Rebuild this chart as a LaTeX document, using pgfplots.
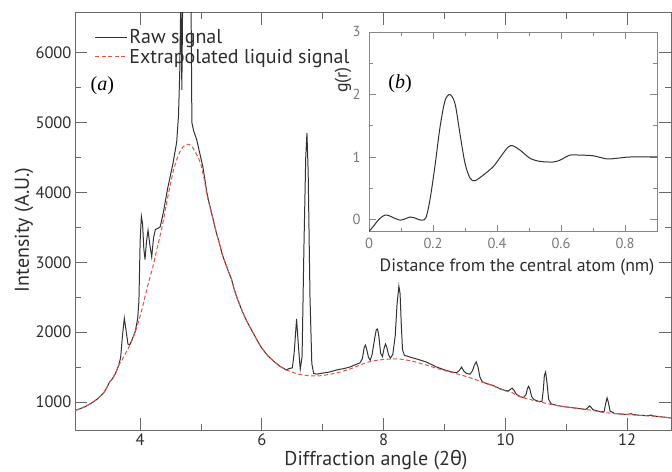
\documentclass[border=0pt]{standalone}
\usepackage{fontspec}
\setmainfont{PT Sans}
\newfontfamily\grk{Noto Sans}
\newfontfamily\serif{Liberation Serif}
\usepackage{pgfplots}
\pgfplotsset{compat=1.18}
\definecolor{rawc}{RGB}{50,50,50}
\definecolor{liqc}{RGB}{232,80,72}
\definecolor{spine}{RGB}{105,105,105}
\definecolor{tlab}{RGB}{45,45,45}
\definecolor{tlabb}{RGB}{120,120,120}

\pgfplotstableread{
x y
2.93 880
3.00 900
3.10 935
3.20 985
3.30 1045
3.40 1130
3.45 1200
3.50 1290
3.55 1340
3.60 1420
3.65 1530
3.68 1640
3.71 1950
3.74 2200
3.77 2020
3.80 1830
3.83 1820
3.87 1900
3.92 2010
3.96 2200
3.98 2450
4.00 3300
4.02 3660
4.04 3550
4.06 3200
4.08 3040
4.105 3300
4.13 3460
4.16 3250
4.19 3080
4.22 3350
4.25 3470
4.30 3490
4.33 3510
4.38 3710
4.45 4050
4.54 4420
4.60 4720
4.63 5100
4.65 5700
4.67 6900
4.685 5470
4.70 6900
4.73 9000
4.80 9000
4.835 6900
4.85 5000
4.88 4880
4.93 4755
4.98 4560
5.03 4370
5.10 3980
5.15 3790
5.20 3610
5.25 3430
5.30 3280
5.35 3110
5.40 2990
5.45 2870
5.50 2760
5.55 2600
5.60 2470
5.65 2360
5.70 2255
5.75 2160
5.80 2080
5.85 2000
5.90 1920
5.95 1840
6.00 1770
6.10 1660
6.20 1580
6.30 1510
6.40 1460
6.45 1480
6.50 1490
6.53 1700
6.57 2190
6.60 1800
6.63 1470
6.66 1650
6.69 3200
6.72 4500
6.74 4850
6.76 4300
6.79 2500
6.82 1550
6.85 1410
6.90 1400
7.00 1415
7.11 1430
7.23 1460
7.35 1480
7.44 1500
7.55 1540
7.61 1560
7.65 1620
7.68 1780
7.70 1815
7.72 1760
7.75 1640
7.78 1600
7.81 1680
7.85 1900
7.88 2040
7.90 2046
7.92 1950
7.95 1700
7.98 1650
8.01 1780
8.03 1830
8.05 1790
8.08 1680
8.11 1630
8.15 1680
8.19 1950
8.22 2400
8.25 2660
8.27 2550
8.29 2100
8.31 1750
8.34 1670
8.43 1645
8.55 1615
8.70 1573
8.87 1502
9.00 1460
9.15 1425
9.20 1420
9.24 1450
9.28 1500
9.32 1440
9.36 1410
9.42 1400
9.46 1450
9.49 1530
9.52 1575
9.55 1500
9.58 1360
9.62 1290
9.70 1262
9.80 1237
9.90 1195
10.00 1165
10.05 1160
10.08 1180
10.11 1200
10.14 1170
10.18 1110
10.25 1075
10.30 1065
10.34 1110
10.36 1190
10.38 1225
10.40 1190
10.43 1080
10.47 1035
10.55 1008
10.60 1010
10.62 1150
10.64 1380
10.66 1430
10.68 1300
10.71 1040
10.75 975
10.85 950
11.00 930
11.20 908
11.32 895
11.36 925
11.38 945
11.40 930
11.44 890
11.55 865
11.62 860
11.65 990
11.67 1060
11.69 1000
11.72 870
11.80 835
12.00 822
12.04 828
12.06 835
12.08 826
12.20 810
12.36 805
12.39 815
12.42 802
12.60 785
12.72 771
}\rawdata

\pgfplotstableread{
x y
2.93 880
3.00 900
3.10 935
3.20 985
3.30 1045
3.40 1130
3.45 1200
3.50 1290
3.55 1340
3.60 1420
3.65 1530
3.70 1600
3.75 1680
3.80 1760
3.85 1850
3.90 1960
3.95 2080
4.00 2230
4.05 2400
4.10 2580
4.15 2750
4.20 2900
4.25 3090
4.30 3280
4.35 3460
4.40 3690
4.45 3920
4.50 4130
4.55 4330
4.60 4470
4.65 4580
4.70 4650
4.75 4685
4.80 4690
4.85 4660
4.90 4590
4.95 4510
5.00 4400
5.05 4200
5.10 3950
5.15 3780
5.20 3610
5.25 3430
5.30 3280
5.35 3110
5.40 2990
5.45 2870
5.50 2760
5.55 2600
5.60 2470
5.65 2360
5.70 2255
5.75 2160
5.80 2080
5.85 2000
5.90 1920
5.95 1840
6.00 1770
6.10 1660
6.20 1580
6.30 1510
6.40 1460
6.50 1425
6.60 1400
6.70 1385
6.80 1375
6.90 1373
7.00 1380
7.10 1395
7.20 1410
7.30 1435
7.40 1460
7.50 1490
7.60 1525
7.70 1560
7.80 1585
7.90 1600
8.00 1610
8.10 1615
8.20 1618
8.30 1612
8.40 1598
8.50 1580
8.60 1555
8.70 1530
8.80 1502
8.90 1475
9.00 1450
9.10 1430
9.20 1405
9.30 1380
9.40 1355
9.50 1325
9.60 1290
9.70 1260
9.80 1235
9.90 1190
10.00 1160
10.10 1140
10.20 1090
10.30 1060
10.40 1040
10.50 1012
10.60 995
10.70 975
10.80 958
10.90 943
11.00 930
11.20 908
11.40 885
11.60 852
11.80 835
12.00 820
12.20 810
12.40 800
12.60 785
12.72 771
}\liqdata

\pgfplotstableread{
x y
0 -0.19
0.012 -0.12
0.024 -0.04
0.037 0.03
0.05 0.07
0.063 0.06
0.08 0.02
0.097 -0.01
0.113 0.01
0.128 0.04
0.14 0.03
0.155 0.0
0.167 -0.01
0.178 0.03
0.19 0.3
0.206 0.85
0.222 1.48
0.2375 1.9
0.253 2.0
0.269 1.85
0.284 1.38
0.3 0.9
0.316 0.66
0.331 0.62
0.357 0.71
0.389 0.85
0.415 1.03
0.435 1.16
0.449 1.18
0.472 1.11
0.503 0.98
0.534 0.93
0.575 0.92
0.597 0.95
0.628 1.03
0.659 1.03
0.7 1.02
0.743 0.97
0.775 0.98
0.816 1.0
0.9 1.0
}\grdata

\begin{document}
\begin{tikzpicture}
\path[use as bounding box] (0,0) rectangle (672bp,472bp);
\begin{axis}[
  at={(75bp,42bp)}, anchor=south west,
  scale only axis, width=596bp, height=417bp,
  xmin=2.93, xmax=12.72, ymin=600, ymax=6570,
  xtick={4,6,8,10,12}, ytick={1000,2000,3000,4000,5000,6000},
  minor x tick num=1, minor y tick num=1,
  tick align=inside, major tick length=12bp, minor tick length=6bp,
  axis line style={spine, line width=1pt},
  tick style={spine, line width=1pt},
  /pgf/number format/assume math mode=true,
  /pgf/number format/1000 sep={},
  ticklabel style={font=\fontsize{16.5bp}{19bp}\selectfont, text=tlab},
  xlabel={Diffraction angle (2{\grk θ})},
  ylabel={Intensity (A.U.)},
  label style={font=\fontsize{20bp}{24bp}\selectfont, text=tlab},
  xlabel style={at={(axis description cs:0.505,-0.0863)}, anchor=base},
  ylabel style={at={(axis description cs:-0.0856,0.48)}, anchor=center},
  legend style={at={(0.033,0.965)}, anchor=north west, draw=none, fill=none,
    font=\fontsize{20bp}{23bp}\selectfont, text=tlab, inner sep=0pt,
    row sep=1bp, nodes={inner sep=1.5bp}},
  legend cell align=left,
  legend image code/.code={\draw[#1] (0bp,0bp) -- (32bp,0bp);},
]
\addplot[rawc, line width=1pt] table[x=x,y=y] {\rawdata};
\addlegendentry{Raw signal}
\addplot[liqc, line width=1pt, dash pattern=on 4bp off 2.5bp] table[x=x,y=y] {\liqdata};
\addlegendentry{Extrapolated liquid signal}
\node[font=\serif\fontsize{20bp}{24bp}\selectfont, text=black] at (axis cs:3.38,5530) {(\textit{a})};
\end{axis}

\begin{axis}[
  at={(369bp,240bp)}, anchor=south west,
  scale only axis, width=288bp, height=200bp,
  xmin=0, xmax=0.9, ymin=-0.2, ymax=3,
  xtick={0,0.2,0.4,0.6,0.8}, ytick={0,1,2,3},
  minor x tick num=1, minor y tick num=1,
  tick align=inside, major tick length=7bp, minor tick length=4bp,
  axis background/.style={fill=white},
  axis line style={spine!80, line width=1pt},
  tick style={spine!80, line width=0.9pt},
  /pgf/number format/assume math mode=true,
  ticklabel style={font=\fontsize{14.5bp}{17bp}\selectfont, text=tlabb},
  xticklabel style={yshift=-3bp},
  yticklabel style={xshift=-5bp},
  xlabel={Distance from the central atom (nm)},
  ylabel={g(r)},
  label style={font=\fontsize{17.8bp}{21bp}\selectfont, text=tlab},
  xlabel style={at={(axis description cs:0.514,-0.2)}, anchor=base},
  ylabel style={at={(axis description cs:-0.09,0.76)}, anchor=center},
]
\addplot[rawc, line width=1pt, smooth] table[x=x,y=y] {\grdata};
\node[font=\serif\fontsize{20bp}{24bp}\selectfont, text=black] at (axis cs:0.097,2.17) {(\textit{b})};
\end{axis}
\end{tikzpicture}
\end{document}
